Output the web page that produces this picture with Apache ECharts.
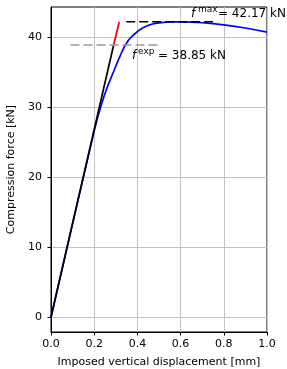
<!DOCTYPE html>
<html><head><meta charset="utf-8">
<script src="https://cdn.jsdelivr.net/npm/echarts@6/dist/echarts.min.js"></script>
<style>html,body{margin:0;padding:0;background:#fff}#c{width:287px;height:369px}</style>
</head><body><div id="c"></div>
<script>
// Data
const blueX = [0, 0.1, 0.2, 0.215, 0.23, 0.245, 0.265, 0.289, 0.31, 0.33, 0.345, 0.36, 0.375, 0.39, 0.405, 0.42, 0.435, 0.45, 0.47, 0.49, 0.51, 0.55, 0.6, 0.65, 0.7, 0.75, 0.8, 0.85, 0.9, 0.95, 1.0];
const blueY = [0, 13.4, 26.6, 28.4, 30.0, 31.5, 33.2, 35.0, 36.6, 38.0, 38.9, 39.6, 40.1, 40.5, 40.9, 41.2, 41.45, 41.65, 41.85, 41.97, 42.06, 42.15, 42.17, 42.12, 42.03, 41.9, 41.72, 41.52, 41.28, 41.0, 40.7];
const elasticX = [0, 0.29];
const elasticY = [0, 38.85];
const redX = [0.29, 0.316];
const redY = [38.85, 42.17];
const fMax = 42.17;
const fExp = 38.85;
const maxLineX = [0.348, 0.75];
const expLineX = [0.09, 0.5];
const xTicks = [0, 0.2, 0.4, 0.6, 0.8, 1.0];
const yTicks = [0, 10, 20, 30, 40];
const labelMax = '= 42.17 kN';
const labelExp = '= 38.85 kN';

const zip = (xs, ys) => xs.map((x, i) => [x, ys[i]]);
const FONT = 'DejaVu Sans';
const chart = echarts.init(document.getElementById('c'), null, {renderer: 'canvas'});
const lineS = (data, color, width, type, z) => ({
  type: 'line', data, showSymbol: false, symbol: 'none', z,
  lineStyle: {color, width, type}, animation: false, silent: true
});
chart.setOption({
  animation: false,
  textStyle: {fontFamily: FONT},
  grid: {left: 51, right: 20, top: 7, bottom: 37, show: true, borderColor: '#000', borderWidth: 1, backgroundColor: 'transparent', outerBoundsMode: 'none', containLabel: false},
  xAxis: {
    type: 'value', min: 0, max: 1, interval: 0.2,
    name: 'Imposed vertical displacement [mm]', nameLocation: 'middle', nameGap: 25,
    nameTextStyle: {fontSize: 11, color: '#000', fontFamily: FONT},
    axisLine: {show: true, onZero: false, lineStyle: {color: '#000', width: 1}},
    axisTick: {show: true, length: 3.5, lineStyle: {color: '#000'}},
    axisLabel: {fontSize: 11, color: '#000', margin: 7, fontFamily: FONT, formatter: v => v.toFixed(1)},
    splitLine: {show: true, lineStyle: {color: '#c4c4c4', width: 1}}
  },
  yAxis: {
    type: 'value', min: -2.1, max: 44.28,
    name: 'Compression force [kN]', nameLocation: 'middle', nameGap: 27,
    nameTextStyle: {fontSize: 11, color: '#000', fontFamily: FONT},
    axisLine: {show: true, onZero: false, lineStyle: {color: '#000', width: 1}},
    axisTick: {show: true, length: 3.5, lineStyle: {color: '#000'}, customValues: yTicks},
    axisLabel: {fontSize: 11, color: '#000', margin: 9, fontFamily: FONT, customValues: yTicks},
    splitLine: {show: true, lineStyle: {color: '#c4c4c4', width: 1}}
  },
  series: [
    lineS(zip(blueX, blueY), '#0000ff', 1.7, 'solid', 2),
    lineS(zip(elasticX, elasticY), '#000000', 1.7, 'solid', 3),
    lineS(zip(redX, redY), '#ff0000', 1.7, 'solid', 3),
    lineS(maxLineX.map(x => [x, fMax]), '#000000', 1.6, [9, 4], 4),
    lineS(expLineX.map(x => [x, fExp]), '#999999', 1.6, [9, 4], 4)
  ],
  graphic: [
    {type: 'text', left: 191, top: 8, z: 100, style: {text: 'f', font: 'italic 12px DejaVu Sans', fill: '#000'}},
    {type: 'text', left: 198, top: 5, z: 100, style: {text: 'max', font: '9px DejaVu Sans', fill: '#000'}},
    {type: 'text', left: 218, top: 8, z: 100, style: {text: labelMax, font: '12px DejaVu Sans', fill: '#000'}},
    {type: 'text', left: 132, top: 50, z: 100, style: {text: 'f', font: 'italic 12px DejaVu Sans', fill: '#000'}},
    {type: 'text', left: 138, top: 47, z: 100, style: {text: 'exp', font: '9px DejaVu Sans', fill: '#000'}},
    {type: 'text', left: 158, top: 50, z: 100, style: {text: labelExp, font: '12px DejaVu Sans', fill: '#000'}}
  ]
});
</script></body></html>
